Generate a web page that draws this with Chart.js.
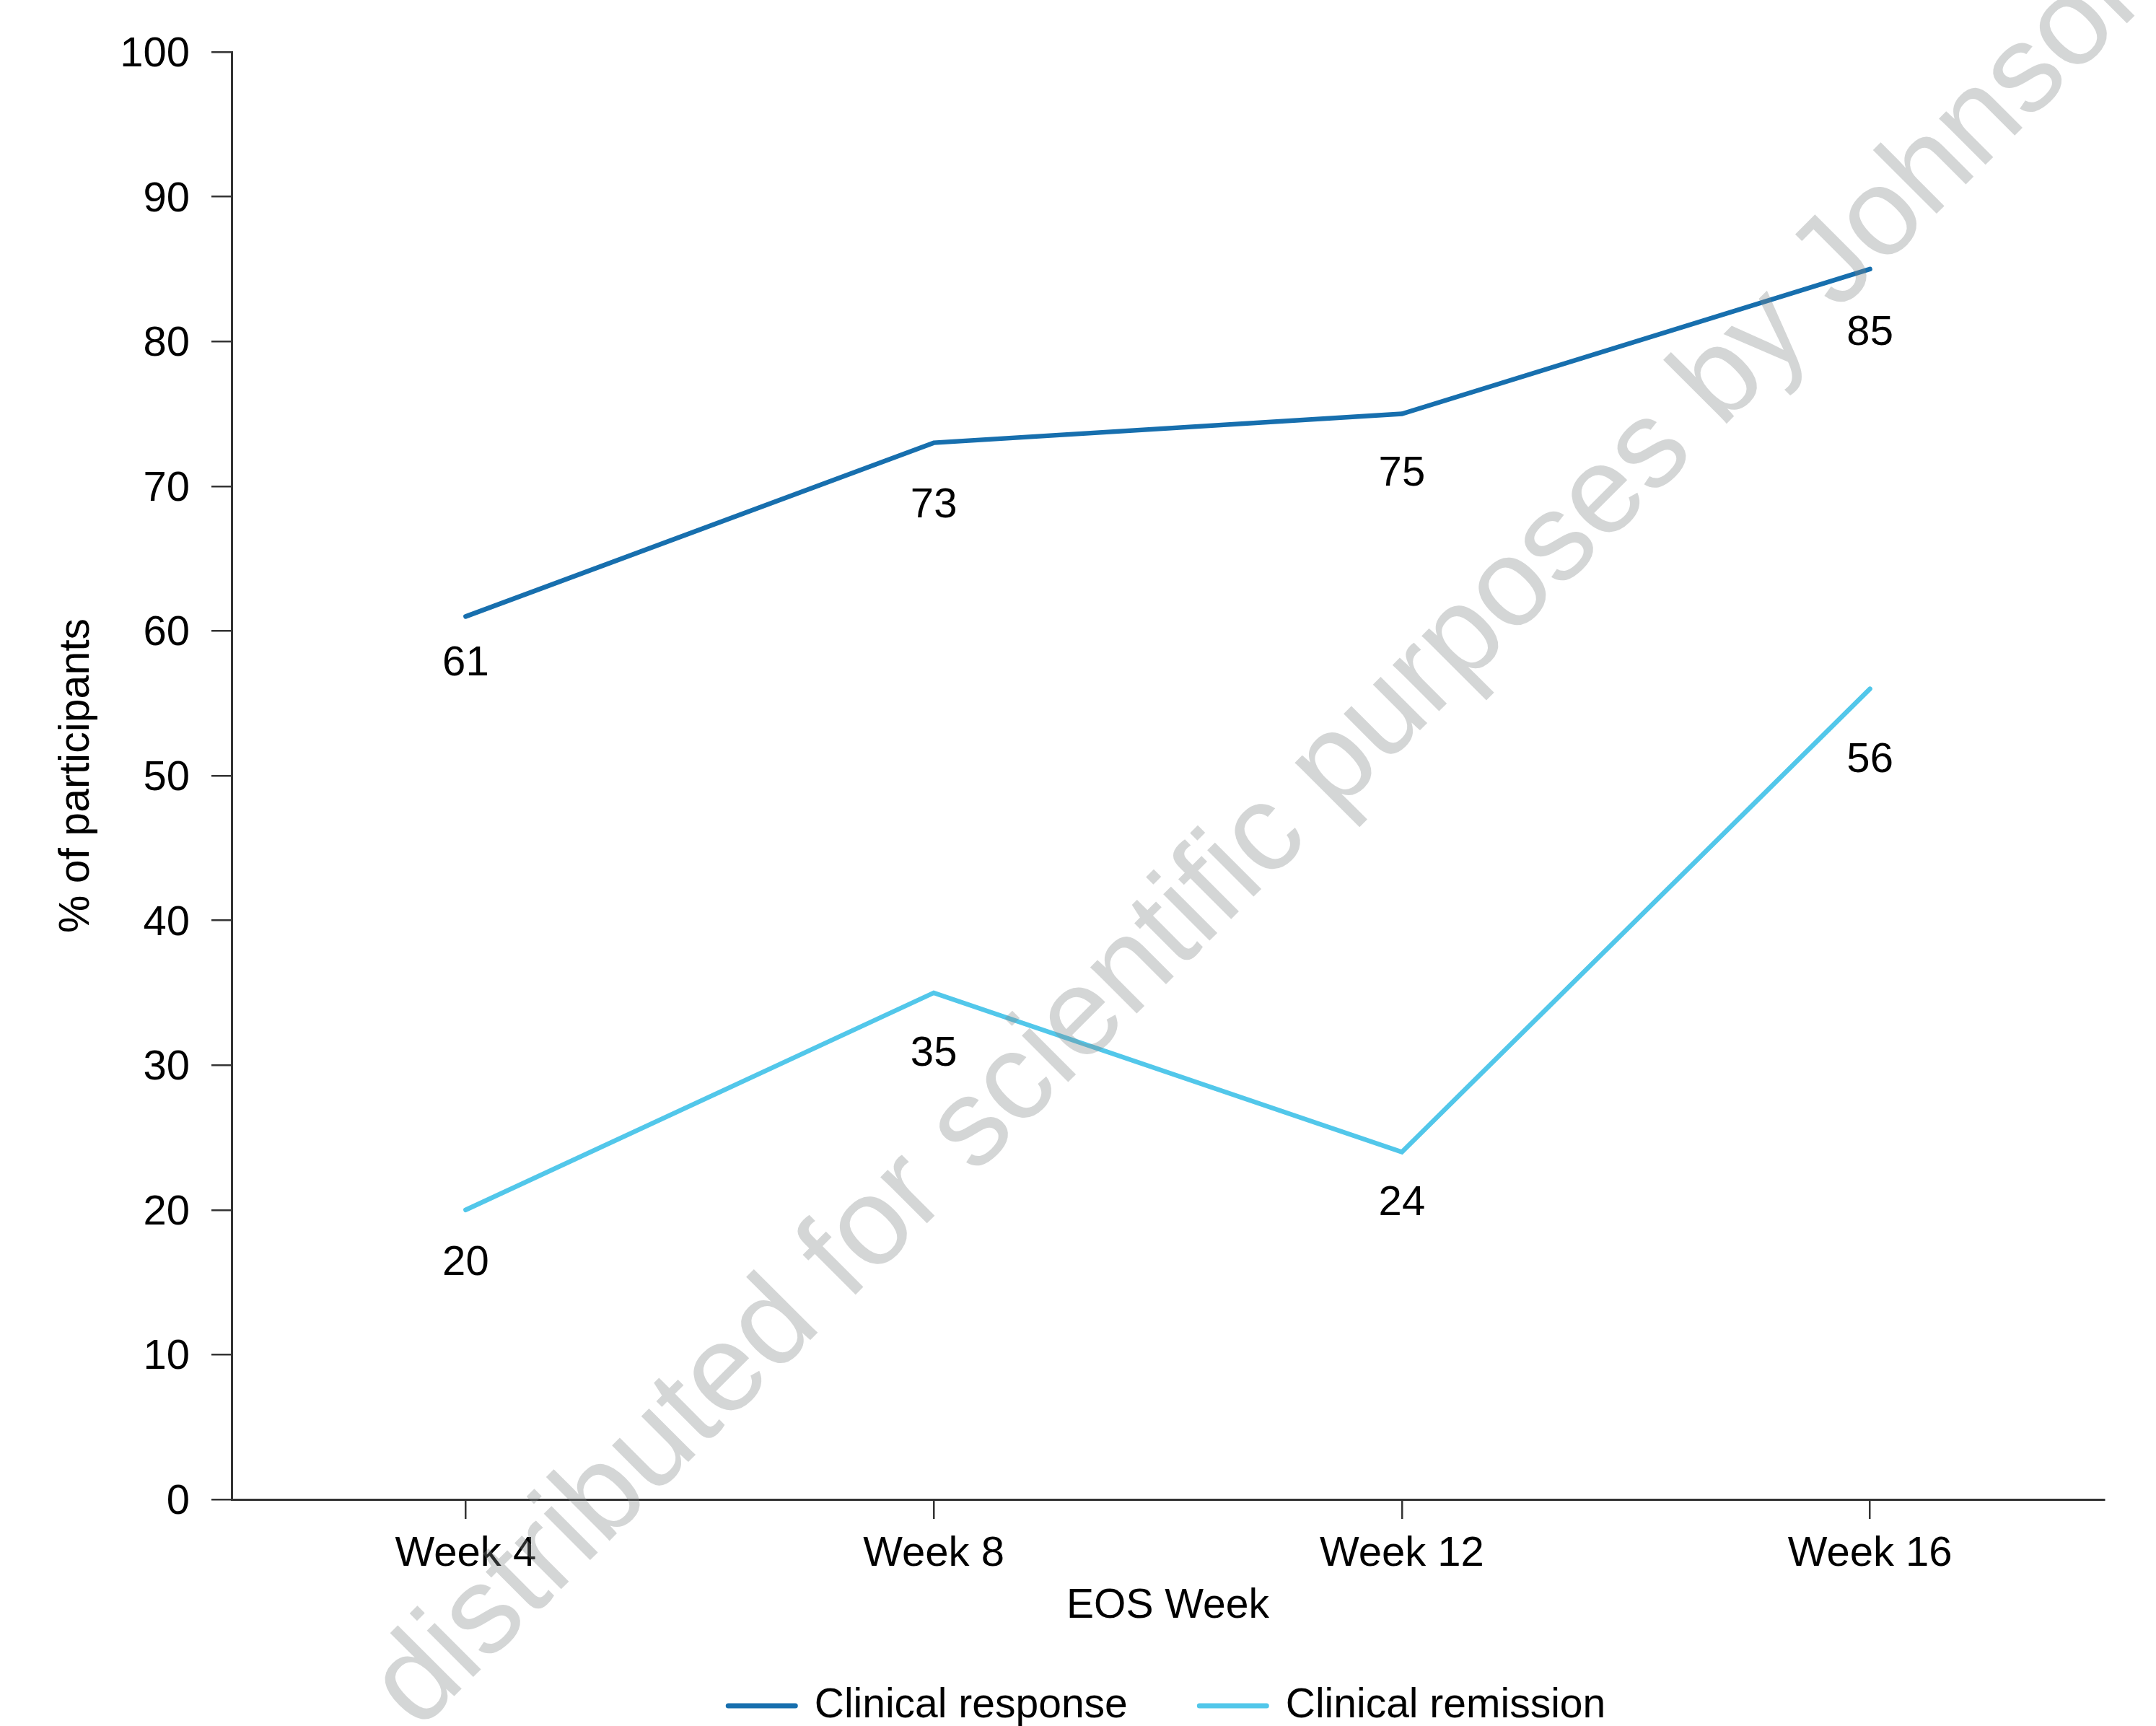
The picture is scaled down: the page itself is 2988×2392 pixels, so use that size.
<!DOCTYPE html>
<html>
<head>
<meta charset="utf-8">
<script src="https://cdn.jsdelivr.net/npm/chart.js@4/dist/chart.umd.min.js"></script>
<style>
  html, body { margin: 0; padding: 0; background: #ffffff; }
  canvas { display: block; }
</style>
</head>
<body>
<canvas id="chart" width="2988" height="2392"></canvas>
<script>
// ---- data ----
const weekLabels = ['Week 4', 'Week 8', 'Week 12', 'Week 16'];
const responseValues = [61, 73, 75, 85];
const remissionValues = [20, 35, 24, 56];
const seriesNames = ['Clinical response', 'Clinical remission'];
const yTickValues = [0, 10, 20, 30, 40, 50, 60, 70, 80, 90, 100];
const xAxisTitle = 'EOS Week';
const yAxisTitle = '% of participants';
const watermarkText = 'distributed for scientific purposes by Johnson & Johnson';

// ---- styling ----
const FONT = "'Liberation Sans', Arial, Helvetica, sans-serif";
const AXIS_COLOR = '#333333';
const TEXT_COLOR = '#000000';
const seriesColors = ['#176fae', '#52c7ea'];
// drop (px) from each point down to the centre of its value label
const responseLabelGap = [66, 87, 83, 89];
const remissionLabelGap = [74, 85, 71, 99];

Chart.defaults.font.family = FONT;
Chart.defaults.color = TEXT_COLOR;

// value labels under each point
const valueLabels = {
  id: 'valueLabels',
  afterDatasetsDraw(chart) {
    const ctx = chart.ctx;
    const gaps = [responseLabelGap, remissionLabelGap];
    ctx.save();
    ctx.font = '58px ' + FONT;
    ctx.fillStyle = TEXT_COLOR;
    ctx.textAlign = 'center';
    ctx.textBaseline = 'middle';
    chart.data.datasets.forEach((ds, di) => {
      const meta = chart.getDatasetMeta(di);
      meta.data.forEach((pt, i) => {
        ctx.fillText(String(ds.data[i]), pt.x, pt.y + gaps[di][i]);
      });
    });
    ctx.restore();
  }
};

// legend row: short line sample followed by the series name
const lineLegend = {
  id: 'lineLegend',
  afterDraw(chart) {
    const ctx = chart.ctx;
    const area = chart.chartArea;
    const sample = 100, gapText = 23, gapItem = 96, y = 2364;
    ctx.save();
    ctx.font = '57px ' + FONT;
    const items = chart.data.datasets.map(ds => ({
      text: ds.label, color: ds.borderColor, w: ctx.measureText(ds.label).width
    }));
    const total = items.reduce((s, it) => s + sample + gapText + it.w, 0) + gapItem * (items.length - 1);
    let x = (area.left + area.right) / 2 - total / 2 - 3;
    items.forEach(it => {
      ctx.strokeStyle = it.color;
      ctx.lineWidth = 7;
      ctx.lineCap = 'round';
      ctx.beginPath();
      ctx.moveTo(x + 3.5, y);
      ctx.lineTo(x + sample - 3.5, y);
      ctx.stroke();
      ctx.fillStyle = TEXT_COLOR;
      ctx.textAlign = 'left';
      ctx.textBaseline = 'middle';
      ctx.fillText(it.text, x + sample + gapText, y);
      x += sample + gapText + it.w + gapItem;
    });
    ctx.restore();
  }
};

// diagonal translucent watermark over the whole figure
const watermark = {
  id: 'watermark',
  afterDraw(chart) {
    const ctx = chart.ctx;
    ctx.save();
    ctx.translate(580, 2400);
    ctx.rotate(-Math.PI / 4);
    ctx.font = '172px ' + FONT;
    ctx.fillStyle = 'rgba(128, 135, 135, 0.34)';
    ctx.textAlign = 'left';
    ctx.textBaseline = 'alphabetic';
    ctx.fillText(watermarkText, 0, 0);
    ctx.restore();
  }
};

new Chart(document.getElementById('chart'), {
  type: 'line',
  data: {
    labels: weekLabels,
    datasets: [
      {
        label: seriesNames[0],
        data: responseValues,
        borderColor: seriesColors[0],
        backgroundColor: seriesColors[0],
        borderWidth: 6.5,
        borderCapStyle: 'round',
        borderJoinStyle: 'miter',
        pointRadius: 0,
        tension: 0,
        fill: false
      },
      {
        label: seriesNames[1],
        data: remissionValues,
        borderColor: seriesColors[1],
        backgroundColor: seriesColors[1],
        borderWidth: 6.5,
        borderCapStyle: 'round',
        borderJoinStyle: 'miter',
        pointRadius: 0,
        tension: 0,
        fill: false
      }
    ]
  },
  options: {
    responsive: false,
    devicePixelRatio: 1,
    animation: false,
    events: [],
    layout: { padding: { top: 72, right: 72, bottom: 132, left: 0 } },
    plugins: {
      legend: { display: false },
      tooltip: { enabled: false },
      title: { display: false }
    },
    scales: {
      x: {
        type: 'category',
        offset: true,
        afterFit(scale) { scale.height = 182; },
        border: { display: true, color: AXIS_COLOR, width: 3 },
        grid: {
          display: true, drawOnChartArea: false, drawTicks: true,
          tickLength: 27, color: AXIS_COLOR, lineWidth: 2.5, offset: false
        },
        ticks: {
          font: { size: 58 }, color: TEXT_COLOR, padding: 14,
          maxRotation: 0, autoSkip: false
        },
        title: {
          display: true, text: xAxisTitle, color: TEXT_COLOR,
          font: { size: 57 }, padding: { top: 0, bottom: 0 }
        }
      },
      y: {
        type: 'linear',
        min: 0, max: 100,
        afterFit(scale) { scale.width = 321; },
        afterBuildTicks(scale) { scale.ticks = yTickValues.map(v => ({ value: v })); },
        border: { display: true, color: AXIS_COLOR, width: 3 },
        grid: {
          display: true, drawOnChartArea: false, drawTicks: true,
          tickLength: 28, color: AXIS_COLOR, lineWidth: 2.5
        },
        ticks: {
          font: { size: 58 }, color: TEXT_COLOR, padding: 30, labelOffset: 4
        },
        title: {
          display: true, text: yAxisTitle, color: TEXT_COLOR,
          font: { size: 59 }, padding: { top: 71, bottom: 0 }
        }
      }
    }
  },
  plugins: [valueLabels, lineLegend, watermark]
});
</script>
</body>
</html>
